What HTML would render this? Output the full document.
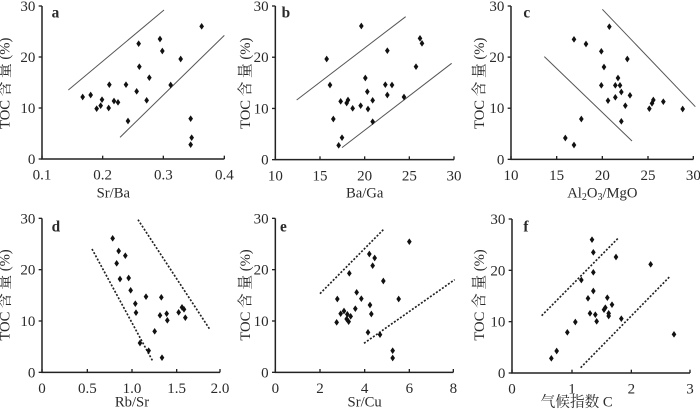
<!DOCTYPE html>
<html><head><meta charset="utf-8"><style>
body{margin:0;background:#fff}
svg{display:block}
text{font-family:"Liberation Serif","Noto Serif CJK SC",serif;fill:#2a2a2a}
</style></head><body>
<svg id="s" width="700" height="409" viewBox="0 0 700 409" xmlns="http://www.w3.org/2000/svg">
<g id="A" transform="translate(0,0) scale(0.33333)">
<text x="28" y="250" font-size="44" text-anchor="middle" transform="rotate(-90 28 250)">TOC 含 量 (%)</text>
<text x="155" y="52" font-size="46" font-weight="bold">a</text>
<text x="340" y="592" font-size="44" text-anchor="middle">Sr/Ba</text>
</g>
<g id="B" transform="translate(230,0) scale(0.33333)">
<text x="60" y="250" font-size="44" text-anchor="middle" transform="rotate(-90 60 250)">TOC 含 量 (%)</text>
<text x="155" y="52" font-size="46" font-weight="bold">b</text>
<text x="404" y="592" font-size="44" text-anchor="middle">Ba/Ga</text>
</g>
<g id="C" transform="translate(460,0) scale(0.33333)">
<text x="72" y="250" font-size="44" text-anchor="middle" transform="rotate(-90 72 250)">TOC 含 量 (%)</text>
<text x="190" y="52" font-size="46" font-weight="bold">c</text>
<text x="427" y="592" font-size="44" text-anchor="middle">Al<tspan font-size="30" dy="8">2</tspan><tspan dy="-8">O</tspan><tspan font-size="30" dy="8">3</tspan><tspan dy="-8">/MgO</tspan></text>
</g>
<g id="D" transform="translate(0,205) scale(0.33333)">
<text x="28" y="270" font-size="44" text-anchor="middle" transform="rotate(-90 28 270)">TOC 含 量 (%)</text>
<text x="155" y="80" font-size="46" font-weight="bold">d</text>
<text x="396" y="604" font-size="44" text-anchor="middle">Rb/Sr</text>
</g>
<g id="E" transform="translate(230,205) scale(0.33333)">
<text x="60" y="270" font-size="44" text-anchor="middle" transform="rotate(-90 60 270)">TOC 含 量 (%)</text>
<text x="150" y="80" font-size="46" font-weight="bold">e</text>
<text x="404" y="604" font-size="44" text-anchor="middle">Sr/Cu</text>
</g>
<g id="F" transform="translate(460,205) scale(0.33333)">
<text x="72" y="270" font-size="44" text-anchor="middle" transform="rotate(-90 72 270)">TOC 含 量 (%)</text>
<text x="190" y="80" font-size="46" font-weight="bold">f</text>
<text x="350" y="604" font-size="44" text-anchor="middle">气候指数 C</text>
</g>
</svg>
<script>
var NS="http://www.w3.org/2000/svg";
function el(g,t,a){var e=document.createElementNS(NS,t);for(var k in a)e.setAttribute(k,a[k]);g.appendChild(e);return e;}
function txt(g,x,y,s,anc){var e=el(g,"text",{x:x,y:y,"font-size":45,"text-anchor":anc});e.textContent=s;}
var P=[
{id:"A",ax:126,y30:18,y0:477,xt:[[126,"0.1"],[308,"0.2"],[490,"0.3"],[673,"0.4"]],dash:false,
pts:[[248,291],[272,285],[290,326],[302,317],[306,299],[326,324],[328,254],[342,303],[354,307],[378,254],[384,363],[410,274],[416,131],[418,200],[440,301],[448,233],[480,117],[487,153],[512,255],[542,177],[605,79],[572,356],[575,413],[572,434]],
lines:[[205,270,492,30],[360,412,673,106]]},
{id:"B",ax:136,y30:18,y0:479,xt:[[136,"10"],[270,"15"],[404,"20"],[538,"25"],[672,"30"]],dash:false,
pts:[[290,177],[300,255],[310,357],[332,304],[336,413],[326,436],[350,309],[354,300],[368,325],[394,78],[392,317],[406,234],[412,275],[414,327],[428,301],[428,365],[466,254],[472,152],[472,285],[486,255],[522,291],[558,200],[570,115],[576,130]],
lines:[[200,300,527,50],[336,443,665,190]]},
{id:"C",ax:153,y30:18,y0:478,xt:[[153,"10"],[290,"15"],[427,"20"],[564,"25"],[700,"30"]],dash:false,
pts:[[342,118],[378,132],[424,154],[448,80],[432,201],[424,256],[444,302],[466,292],[466,256],[474,234],[480,256],[484,276],[502,177],[510,286],[496,317],[484,364],[568,326],[576,310],[580,300],[610,305],[668,327],[364,357],[316,414],[342,435]],
lines:[[253,170,516,423],[427,28,706,320]]},
{id:"D",ax:126,y30:40,y0:502,xt:[[126,"0"],[262,"0.5"],[396,"1.0"],[530,"1.5"],[660,"2.0"]],dash:true,
pts:[[338,100],[356,138],[376,152],[350,175],[360,222],[386,219],[392,256],[406,296],[408,323],[420,414],[446,437],[438,275],[484,277],[480,331],[486,458],[464,379],[500,326],[502,346],[536,322],[546,307],[552,313],[556,338]],
lines:[[276,132,458,468],[414,44,630,374]]},
{id:"E",ax:136,y30:40,y0:502,xt:[[136,"0"],[270,"2"],[404,"4"],[538,"6"],[670,"8"]],dash:true,
pts:[[320,352],[322,282],[332,326],[342,318],[350,342],[352,328],[356,350],[362,334],[358,205],[376,311],[380,262],[394,281],[418,147],[420,300],[424,327],[434,159],[428,182],[414,382],[450,389],[460,228],[506,282],[538,110],[488,437],[488,459]],
lines:[[270,266,460,74],[402,415,674,224]]},
{id:"F",ax:156,y30:42,y0:504,xt:[[156,"0"],[336,"1"],[514,"2"],[690,"3"]],dash:true,
pts:[[396,104],[400,142],[400,202],[364,225],[468,156],[400,258],[384,280],[390,325],[406,329],[410,349],[346,351],[322,382],[290,438],[274,460],[442,278],[432,314],[436,308],[446,325],[446,333],[456,299],[484,341],[572,178],[642,388]],
lines:[[245,332,474,100],[362,488,630,214]]}
];
P.forEach(function(p){
var g=document.getElementById(p.id);
var xe=p.xt[p.xt.length-1][0];
el(g,"path",{d:"M"+p.ax+" "+p.y30+"V"+p.y0+"H"+xe,stroke:"#222","stroke-width":4.5,fill:"none"});
for(var i=0;i<=3;i++){var y=p.y0+(p.y30-p.y0)*i/3;
el(g,"line",{x1:p.ax-10,y1:y,x2:p.ax,y2:y,stroke:"#222","stroke-width":4});
txt(g,p.ax-20,y+15,String(i*10),"end");}
p.xt.forEach(function(t){el(g,"line",{x1:t[0],y1:p.y0,x2:t[0],y2:p.y0-10,stroke:"#222","stroke-width":4});
txt(g,t[0],p.y0+62,t[1],"middle");});
p.lines.forEach(function(l){var a={x1:l[0],y1:l[1],x2:l[2],y2:l[3],stroke:p.dash?"#222":"#555","stroke-width":p.dash?5:3};
if(p.dash)a["stroke-dasharray"]="6 5";el(g,"line",a);});
p.pts.forEach(function(q){el(g,"path",{d:"M"+q[0]+" "+(q[1]-10)+"l7 10l-7 10l-7-10z",fill:"#111"});});
});
</script>
</body></html>
